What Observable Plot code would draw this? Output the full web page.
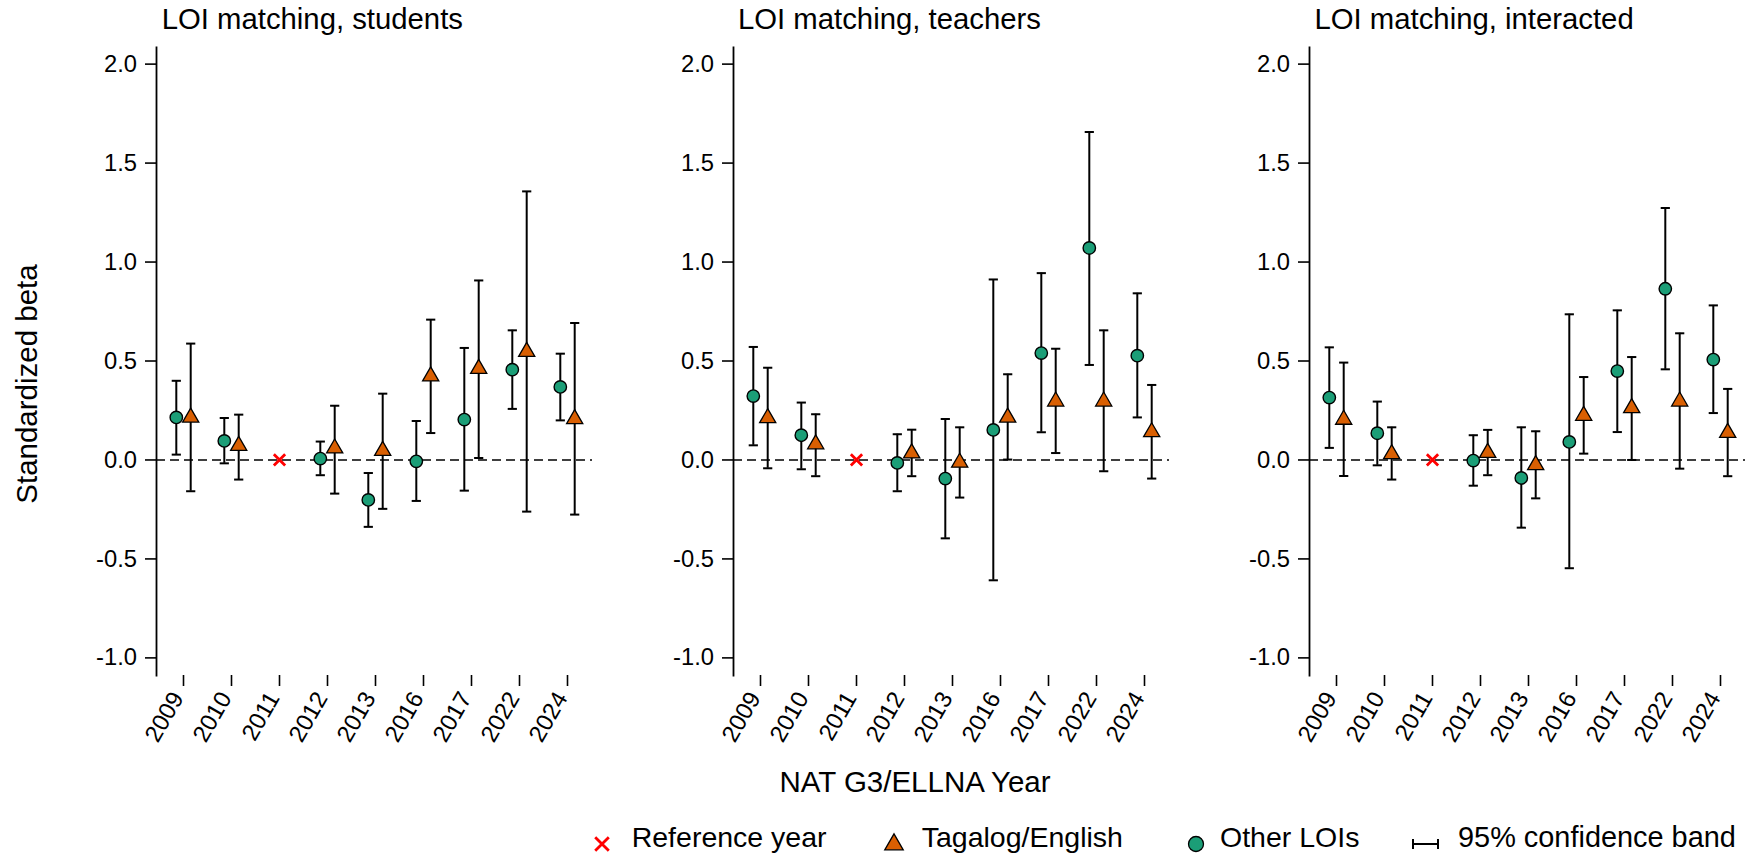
<!DOCTYPE html>
<html>
<head>
<meta charset="utf-8">
<script src="https://cdn.jsdelivr.net/npm/d3@7"></script>
<script src="https://cdn.jsdelivr.net/npm/@observablehq/plot@0.6"></script>
<style>
  body { margin: 0; background: #fff; }
  #wrap { position: relative; width: 1746px; height: 856px; overflow: hidden; background: #fff;
          font-family: "Liberation Sans", Arial, sans-serif; }
  .panel { position: absolute; top: 0; width: 592px; height: 856px; }
  #overlay { position: absolute; left: 0; top: 0; pointer-events: none; }
</style>
</head>
<body>
<div id="wrap"></div>
<script>
// ---------------- data ----------------
const years = ["2009", "2010", "2011", "2012", "2013", "2016", "2017", "2022", "2024"];
const referenceYear = "2011";
const yTicks = [-1.0, -0.5, 0.0, 0.5, 1.0, 1.5, 2.0];
const panelTitles = ["LOI matching, students", "LOI matching, teachers", "LOI matching, interacted"];
const legendLabels = ["Reference year", "Tagalog/English", "Other LOIs", "95% confidence band"];
const yLabel = "Standardized beta";
const xLabel = "NAT G3/ELLNA Year";

// students
const studentsOtherEst = [0.215, 0.096, null, 0.007, -0.202, -0.007, 0.204, 0.456, 0.369];
const studentsOtherLo  = [0.027, -0.017, null, -0.077, -0.338, -0.207, -0.155, 0.258, 0.200];
const studentsOtherHi  = [0.400, 0.212, null, 0.093, -0.066, 0.197, 0.566, 0.655, 0.537];
const studentsTagEst   = [0.215, 0.072, null, 0.059, 0.047, 0.423, 0.461, 0.547, 0.207];
const studentsTagLo    = [-0.158, -0.099, null, -0.170, -0.247, 0.136, 0.010, -0.261, -0.276];
const studentsTagHi    = [0.588, 0.229, null, 0.274, 0.335, 0.709, 0.907, 1.357, 0.692];

// teachers
const teachersOtherEst = [0.323, 0.125, null, -0.015, -0.094, 0.152, 0.540, 1.071, 0.527];
const teachersOtherLo  = [0.074, -0.047, null, -0.158, -0.396, -0.608, 0.140, 0.480, 0.215];
const teachersOtherHi  = [0.571, 0.290, null, 0.130, 0.207, 0.912, 0.944, 1.657, 0.842];
const teachersTagEst   = [0.212, 0.080, null, 0.034, -0.013, 0.215, 0.296, 0.296, 0.141];
const teachersTagLo    = [-0.042, -0.082, null, -0.082, -0.190, 0.002, 0.035, -0.057, -0.094];
const teachersTagHi    = [0.466, 0.231, null, 0.153, 0.165, 0.433, 0.562, 0.655, 0.379];

// interacted
const interactedOtherEst = [0.315, 0.135, null, -0.003, -0.091, 0.091, 0.449, 0.865, 0.507];
const interactedOtherLo  = [0.061, -0.027, null, -0.130, -0.342, -0.547, 0.141, 0.458, 0.237];
const interactedOtherHi  = [0.569, 0.295, null, 0.125, 0.165, 0.736, 0.756, 1.273, 0.781];
const interactedTagEst   = [0.204, 0.030, null, 0.037, -0.025, 0.224, 0.263, 0.296, 0.138];
const interactedTagLo    = [-0.081, -0.099, null, -0.077, -0.194, 0.032, 0.000, -0.044, -0.082];
const interactedTagHi    = [0.492, 0.165, null, 0.152, 0.145, 0.419, 0.520, 0.640, 0.359];

// ---------------- build ----------------
const FONT = '"Liberation Sans", Arial, sans-serif';
const GREEN = "#1b9e77", ORANGE = "#d95f02", RED = "#ff0000";

function rows(est, lo, hi) {
  return years.map((y, i) => ({year: y, est: est[i], lo: lo[i], hi: hi[i]})).filter(d => d.est != null);
}

const panels = [
  {other: rows(studentsOtherEst, studentsOtherLo, studentsOtherHi), tag: rows(studentsTagEst, studentsTagLo, studentsTagHi)},
  {other: rows(teachersOtherEst, teachersOtherLo, teachersOtherHi), tag: rows(teachersTagEst, teachersTagLo, teachersTagHi)},
  {other: rows(interactedOtherEst, interactedOtherLo, interactedOtherHi), tag: rows(interactedTagEst, interactedTagLo, interactedTagHi)}
];

// horizontal cap for the confidence-band whiskers
const capSymbol = {
  draw(ctx, size) {
    const r = Math.sqrt(size / Math.PI);
    ctx.moveTo(-r, 0); ctx.lineTo(r, 0);
  }
};

const wrap = document.getElementById("wrap");
const panelLeft = [0, 576.5, 1153];
const OFF = 7.2;

function errMarks(data, dx) {
  return [
    Plot.ruleX(data, {x: "year", y1: "lo", y2: "hi", dx, stroke: "#000", strokeWidth: 2}),
    Plot.dot(data, {x: "year", y: "lo", dx, symbol: capSymbol, r: 4.6, fill: "none", stroke: "#000", strokeWidth: 2}),
    Plot.dot(data, {x: "year", y: "hi", dx, symbol: capSymbol, r: 4.6, fill: "none", stroke: "#000", strokeWidth: 2})
  ];
}

panels.forEach((p, k) => {
  const chart = Plot.plot({
    width: 592,
    height: 856,
    marginLeft: 156,
    marginRight: 0,
    marginTop: 47,
    marginBottom: 181,
    style: {background: "transparent", overflow: "visible", fontFamily: FONT, fontSize: "23.75px", color: "#000"},
    x: {type: "point", domain: years, range: [182, 568], padding: 0, label: null},
    y: {domain: [-1.089, 2.084], label: null},
    marks: [
      Plot.frame({anchor: "left", stroke: "#000", strokeWidth: 1.8}),
      Plot.axisY({ticks: yTicks, tickSize: 11, tickFormat: () => "", label: null, strokeWidth: 1.6}),
      Plot.text(yTicks, {y: d => d, frameAnchor: "left", text: d => d.toFixed(1), textAnchor: "end",
                         lineAnchor: "middle", dx: -19.5, fontSize: 23.75, fill: "#000"}),
      Plot.axisX({tickSize: 11, tickFormat: () => "", label: null, strokeWidth: 1.6}),
      Plot.text(years, {x: d => d, frameAnchor: "bottom", text: d => d, rotate: -60, textAnchor: "end",
                        lineAnchor: "middle", dx: -5.8, dy: 18.6, fontSize: 23.75, fill: "#000"}),
      Plot.ruleY([0], {stroke: "#000", strokeWidth: 1.6, strokeDasharray: "9,5"}),
      ...errMarks(p.other, -OFF),
      ...errMarks(p.tag, OFF),
      Plot.dot(p.other, {x: "year", y: "est", dx: -OFF, r: 6.2, fill: GREEN, stroke: "#000", strokeWidth: 1.4}),
      Plot.dot(p.tag, {x: "year", y: "est", dx: OFF, symbol: "triangle", r: 6.0, fill: ORANGE, stroke: "#000", strokeWidth: 1.3}),
      Plot.dot([{year: referenceYear, v: 0}], {x: "year", y: "v", symbol: "times", r: 5.2, stroke: RED, strokeWidth: 2.8})
    ]
  });
  const div = document.createElement("div");
  div.className = "panel";
  div.style.left = panelLeft[k] + "px";
  div.appendChild(chart);
  wrap.appendChild(div);
});

// ---------------- overlay text & legend ----------------
const svg = d3.select(wrap).append("svg").attr("id", "overlay")
  .attr("width", 1746).attr("height", 856)
  .style("font-family", FONT);

const titleX = [161.7, 738, 1314.5];
panelTitles.forEach((t, k) => {
  svg.append("text").attr("x", titleX[k]).attr("y", 29.3)
    .attr("font-size", 29.3).attr("fill", "#000").text(t);
});

svg.append("text")
  .attr("transform", "translate(36.7,384) rotate(-90)")
  .attr("text-anchor", "middle").attr("font-size", 29.5).attr("fill", "#000").text(yLabel);

svg.append("text").attr("x", 915).attr("y", 791.7).attr("text-anchor", "middle")
  .attr("font-size", 29.5).attr("fill", "#000").text(xLabel);

// legend
const ly = 846.7;
const legendText = [631.7, 921.7, 1220, 1458];
legendLabels.forEach((t, i) => {
  svg.append("text").attr("x", legendText[i]).attr("y", ly)
    .attr("font-size", i === 3 ? 28.9 : 28.5).attr("fill", "#000").text(t);
});
svg.append("path").attr("transform", "translate(602,844)")
  .attr("d", d3.symbol(d3.symbolTimes, 122)()).attr("fill", "none").attr("stroke", RED).attr("stroke-width", 2.8);
svg.append("path").attr("transform", "translate(894,844.5)")
  .attr("d", d3.symbol(d3.symbolTriangle, 148)()).attr("fill", ORANGE).attr("stroke", "#000").attr("stroke-width", 1.3);
svg.append("circle").attr("cx", 1196).attr("cy", 844).attr("r", 7.5)
  .attr("fill", GREEN).attr("stroke", "#000").attr("stroke-width", 1.3);
svg.append("path").attr("d", "M1413,839V849M1413,844H1438M1438,839V849")
  .attr("fill", "none").attr("stroke", "#000").attr("stroke-width", 2);
</script>
</body>
</html>
